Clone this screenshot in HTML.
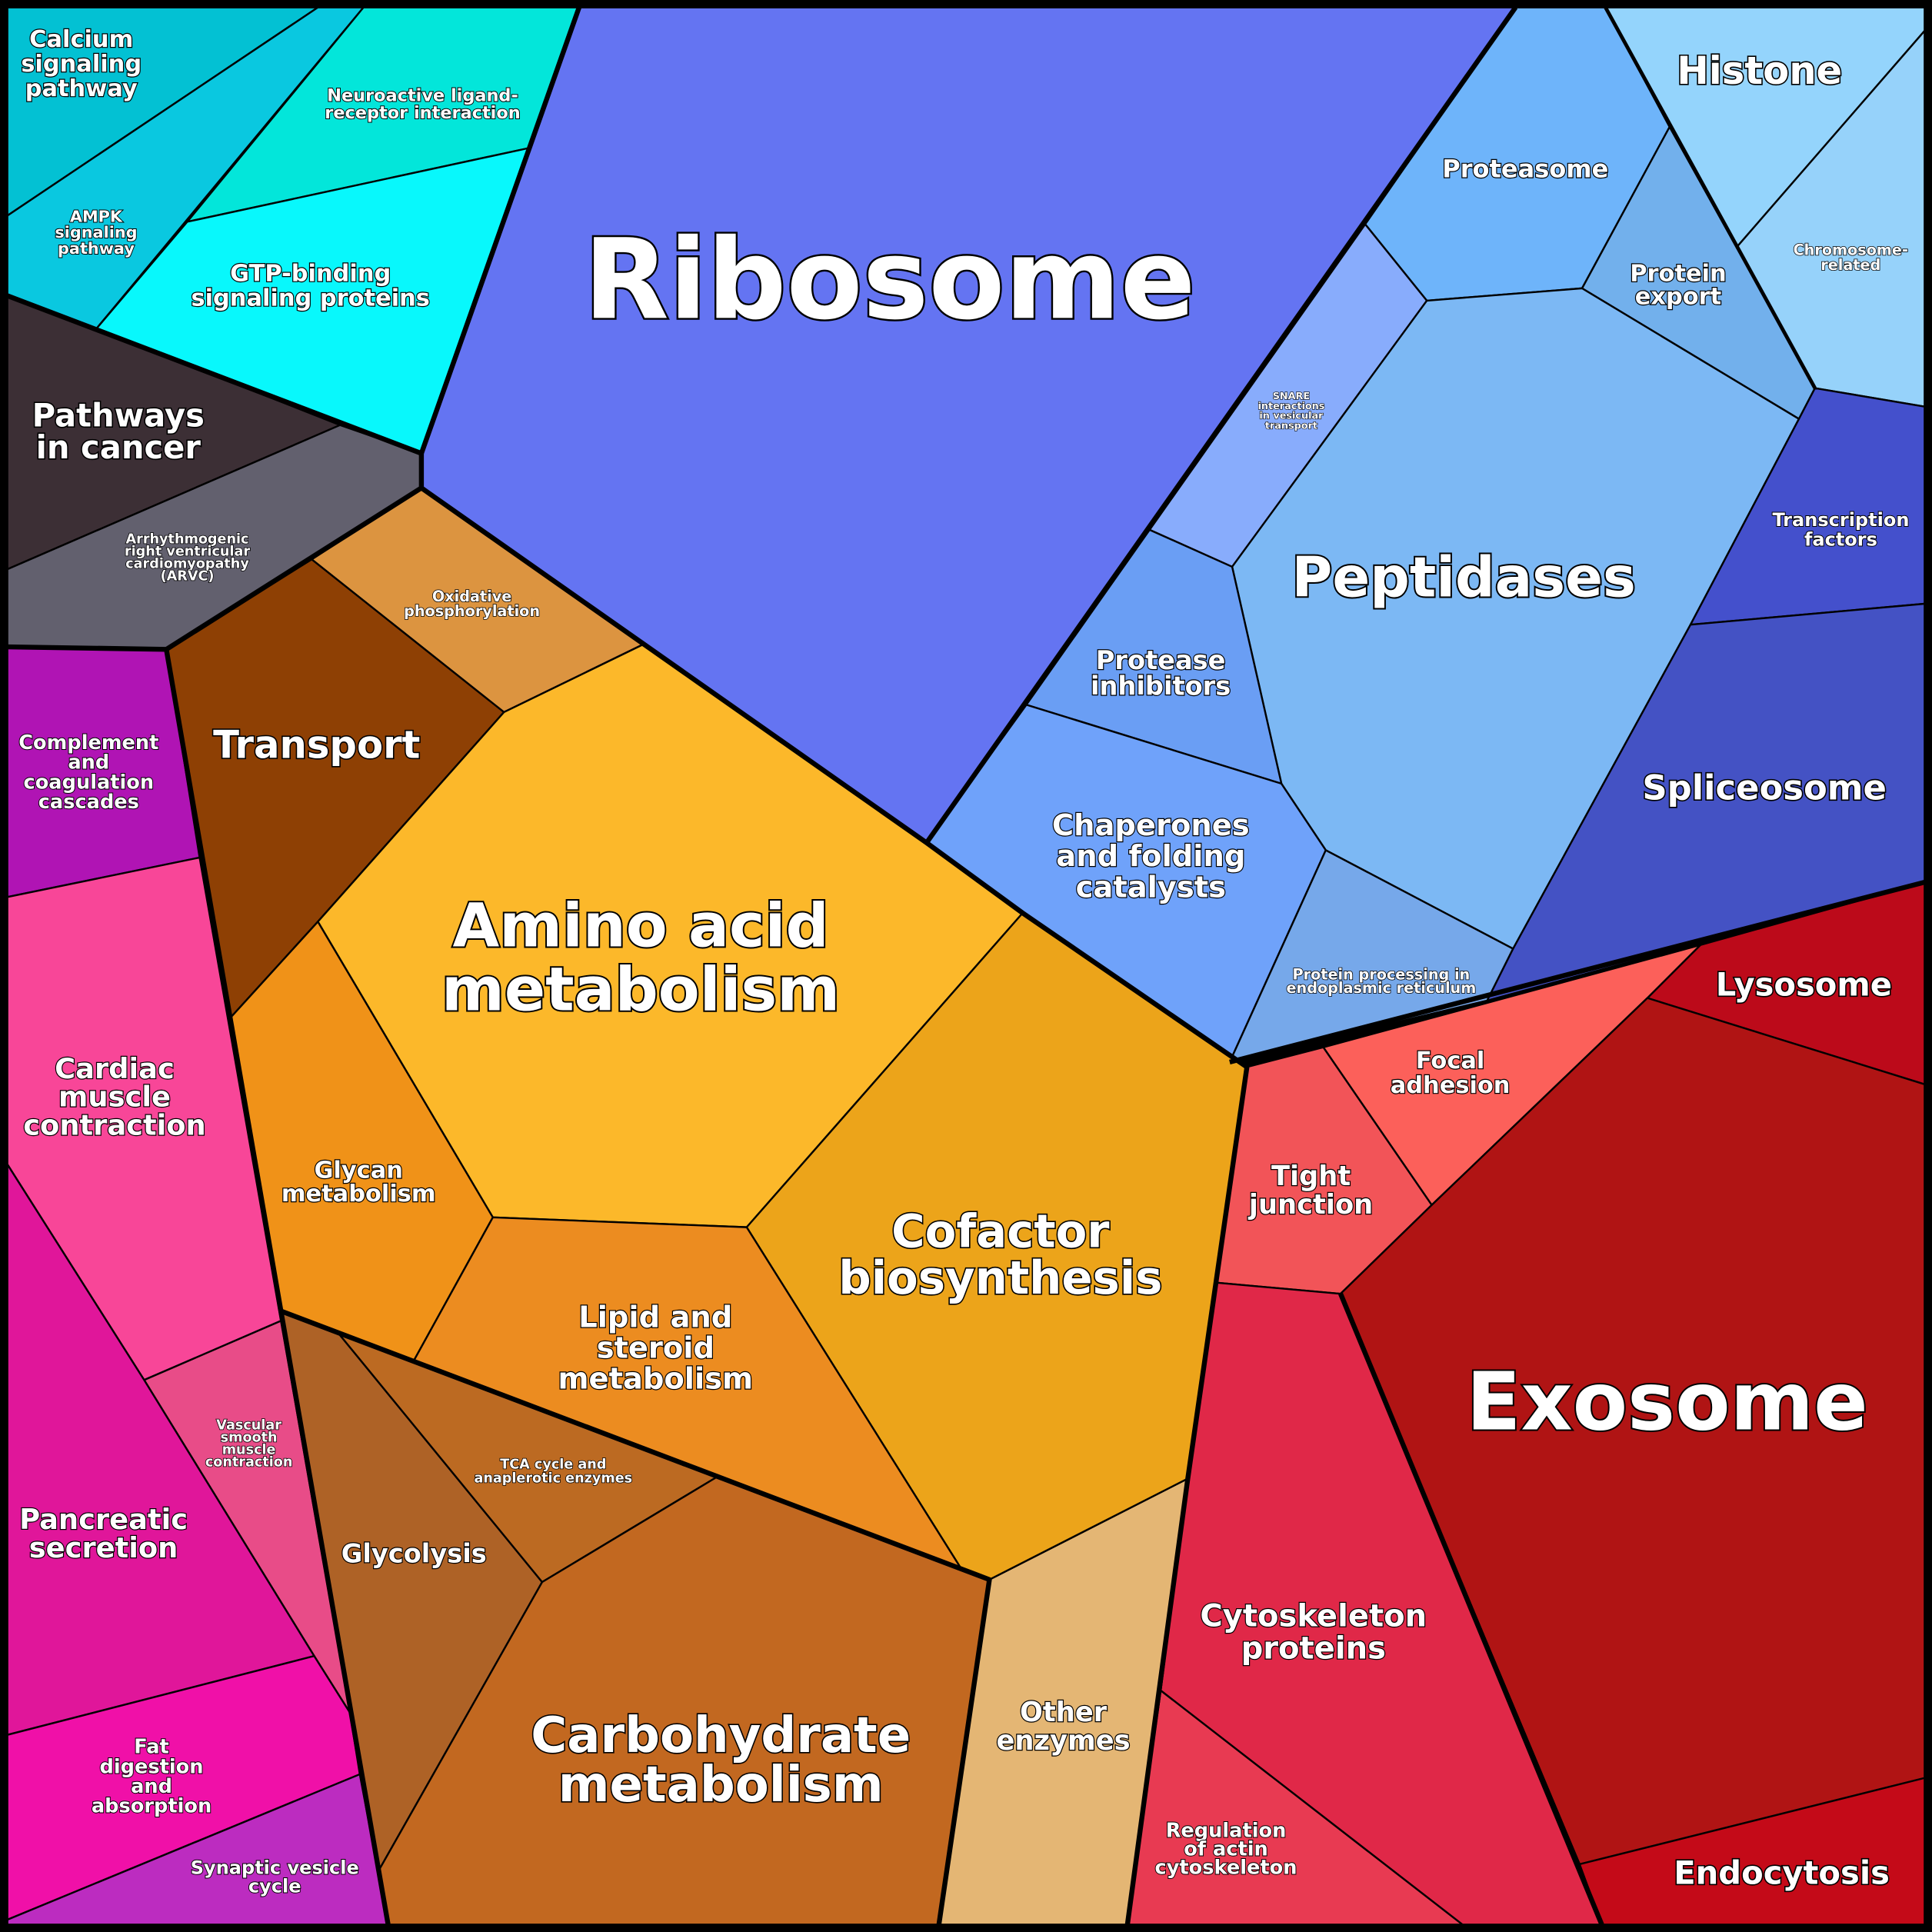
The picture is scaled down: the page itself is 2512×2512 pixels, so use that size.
<!DOCTYPE html>
<html><head><meta charset="utf-8"><style>
html,body{margin:0;padding:0;background:#000;}
svg{display:block;}
text{font-family:"DejaVu Sans","Liberation Sans",sans-serif;font-weight:bold;fill:#fff;stroke:#000;paint-order:stroke;text-anchor:middle;}
</style></head><body>
<svg width="2512" height="2512" viewBox="0 0 1568 1568" xmlns="http://www.w3.org/2000/svg">
<rect x="0" y="0" width="1568" height="1568" fill="#000"/>
<g stroke="#000" stroke-width="1.5" stroke-linejoin="round">
<polygon fill="#03c1d3" points="6,6 258,6 6,175"/>
<polygon fill="#0ac8e0" points="258,6 295,6 78,267 6,240 6,175"/>
<polygon fill="#03e6da" points="295,6 470,6 430,120 152,180"/>
<polygon fill="#08f8fc" points="152,180 430,120 342,368 78,267"/>
<polygon fill="#3c2f35" points="6,240 78,267 276,345 6,462"/>
<polygon fill="#62606e" points="276,345 342,368 342,396 135,527 6,525 6,462"/>
<polygon fill="#6474f2" points="470,6 1230,6 1108,182 933,430 833,572 752,684 522,523 342,396 342,368"/>
<polygon fill="#94d4fc" points="1303,6 1562,6 1562,25 1410,200"/>
<polygon fill="#96d2fa" points="1562,25 1562,330 1473,315 1410,200"/>
<polygon fill="#6eb4fa" points="1230,6 1303,6 1355,103 1284,234 1158,244 1108,182"/>
<polygon fill="#72b0ec" points="1355,103 1473,315 1460,340 1284,234"/>
<polygon fill="#88acfc" points="1108,182 1158,244 1000,460 933,430"/>
<polygon fill="#7cb8f4" points="1158,244 1284,234 1460,340 1372,507 1228,770 1076,690 1040,636 1000,460"/>
<polygon fill="#6a9ef4" points="933,430 1000,460 1040,636 833,572"/>
<polygon fill="#6fa2fa" points="833,572 1040,636 1076,690 998,862 752,684"/>
<polygon fill="#76a8ea" points="1076,690 1228,770 1207,812 998,862"/>
<polygon fill="#4450cc" points="1473,315 1562,330 1562,490 1372,507 1460,340"/>
<polygon fill="#4452c4" points="1372,507 1562,490 1562,716 1207,812 1228,770"/>
<polygon fill="#bc0a1a" points="1380,767 1562,716 1562,880 1337,810"/>
<polygon fill="#fc605a" points="1074,850 1380,767 1337,810 1162,978"/>
<polygon fill="#f25458" points="1012,866 1074,850 1162,978 1088,1050 987,1041"/>
<polygon fill="#b01414" points="1337,810 1562,880 1562,1443 1282,1513 1088,1050 1162,978"/>
<polygon fill="#e02848" points="987,1041 1088,1050 1282,1513 1300,1562 1187,1562 942,1372 964,1200"/>
<polygon fill="#e83a52" points="942,1372 1187,1562 915,1562"/>
<polygon fill="#c40a18" points="1282,1513 1562,1443 1562,1562 1300,1562"/>
<polygon fill="#e4b674" points="964,1200 942,1372 915,1562 762,1562 803,1282"/>
<polygon fill="#dc9440" points="342,396 522,523 409,578 253,454"/>
<polygon fill="#8e4004" points="135,527 253,454 409,578 258,748 187,826"/>
<polygon fill="#fcb82a" points="409,578 522,523 752,684 830,741 606,996 400,988 258,748"/>
<polygon fill="#eca41a" points="830,741 1012,866 964,1200 803,1282 780,1273 606,996"/>
<polygon fill="#f09218" points="187,826 258,748 400,988 336,1104 228,1064"/>
<polygon fill="#ec8c20" points="400,988 606,996 780,1273 336,1104"/>
<polygon fill="#ae6226" points="228,1064 273,1080 440,1284 308,1517 292,1440"/>
<polygon fill="#bc6a22" points="273,1080 583,1198 440,1284"/>
<polygon fill="#c26820" points="440,1284 583,1198 803,1282 762,1562 315,1562 308,1517"/>
<polygon fill="#b014b4" points="6,525 135,527 162,696 6,728"/>
<polygon fill="#f84698" points="6,728 162,696 228,1072 117,1120 6,945"/>
<polygon fill="#e84c88" points="117,1120 228,1072 284,1390 255,1344"/>
<polygon fill="#e0169a" points="6,945 117,1120 255,1344 6,1408"/>
<polygon fill="#f010a8" points="6,1408 255,1344 284,1390 292,1440 6,1558"/>
<polygon fill="#bc2cc0" points="292,1440 315,1562 6,1562 6,1558"/>
</g>
<g fill="none" stroke="#000" stroke-width="4" stroke-linejoin="round">
<polyline points="6,240 342,368 470,6"/>
<polyline points="342,368 342,396 752,684 830,741 1012,866"/>
<polyline points="1230,6 752,684"/>
<polyline points="998,862 1562,716"/>
<polyline points="1012,866 964,1200 915,1562"/>
<polyline points="342,396 135,527 228,1064 315,1562"/>
<polyline points="6,525 135,527"/>
<polyline points="228,1064 803,1282 762,1562"/>
<polyline points="1303,6 1473,315" stroke-width="3"/>
<polyline points="1088,1050 1300,1562"/>
<rect x="3" y="3" width="1562" height="1562" stroke-width="7"/>
</g>
<g>
<text x="66" y="38" font-size="19" stroke-width="1.5">Calcium</text>
<text x="66" y="58" font-size="19" stroke-width="1.5">signaling</text>
<text x="66" y="78" font-size="19" stroke-width="1.5">pathway</text>
<text x="78" y="180" font-size="13" stroke-width="1.2">AMPK</text>
<text x="78" y="193" font-size="13" stroke-width="1.2">signaling</text>
<text x="78" y="206" font-size="13" stroke-width="1.2">pathway</text>
<text x="343" y="82" font-size="14" stroke-width="1.2">Neuroactive ligand-</text>
<text x="343" y="96" font-size="14" stroke-width="1.2">receptor interaction</text>
<text x="252" y="228" font-size="19" stroke-width="1.5">GTP-binding</text>
<text x="252" y="248" font-size="19" stroke-width="1.5">signaling proteins</text>
<text x="96" y="346" font-size="26" stroke-width="2">Pathways</text>
<text x="96" y="372" font-size="26" stroke-width="2">in cancer</text>
<text x="152" y="441" font-size="11" stroke-width="1">Arrhythmogenic</text>
<text x="152" y="451" font-size="11" stroke-width="1">right ventricular</text>
<text x="152" y="461" font-size="11" stroke-width="1">cardiomyopathy</text>
<text x="152" y="471" font-size="11" stroke-width="1">(ARVC)</text>
<text x="722" y="258" font-size="90" stroke-width="3">Ribosome</text>
<text x="1428" y="68" font-size="31" stroke-width="2">Histone</text>
<text x="1502" y="207" font-size="12" stroke-width="1">Chromosome-</text>
<text x="1502" y="219" font-size="12" stroke-width="1">related</text>
<text x="1238" y="144" font-size="20" stroke-width="1.5">Proteasome</text>
<text x="1362" y="228" font-size="19" stroke-width="1.5">Protein</text>
<text x="1362" y="247" font-size="19" stroke-width="1.5">export</text>
<text x="1048" y="324" font-size="8" stroke-width="0.8">SNARE</text>
<text x="1048" y="332" font-size="8" stroke-width="0.8">interactions</text>
<text x="1048" y="340" font-size="8" stroke-width="0.8">in vesicular</text>
<text x="1048" y="348" font-size="8" stroke-width="0.8">transport</text>
<text x="1188" y="484" font-size="45" stroke-width="2.5">Peptidases</text>
<text x="942" y="543" font-size="21" stroke-width="1.5">Protease</text>
<text x="942" y="564" font-size="21" stroke-width="1.5">inhibitors</text>
<text x="934" y="678" font-size="24" stroke-width="1.5">Chaperones</text>
<text x="934" y="703" font-size="24" stroke-width="1.5">and folding</text>
<text x="934" y="728" font-size="24" stroke-width="1.5">catalysts</text>
<text x="1121" y="795" font-size="12" stroke-width="1">Protein processing in</text>
<text x="1121" y="806" font-size="12" stroke-width="1">endoplasmic reticulum</text>
<text x="1494" y="427" font-size="15" stroke-width="1.2">Transcription</text>
<text x="1494" y="443" font-size="15" stroke-width="1.2">factors</text>
<text x="1432" y="649" font-size="28" stroke-width="2">Spliceosome</text>
<text x="1464" y="808" font-size="26" stroke-width="2">Lysosome</text>
<text x="1177" y="867" font-size="19" stroke-width="1.5">Focal</text>
<text x="1177" y="887" font-size="19" stroke-width="1.5">adhesion</text>
<text x="1064" y="962" font-size="22" stroke-width="1.5">Tight</text>
<text x="1064" y="985" font-size="22" stroke-width="1.5">junction</text>
<text x="1353" y="1160" font-size="65" stroke-width="2.5">Exosome</text>
<text x="1066" y="1320" font-size="25" stroke-width="1.5">Cytoskeleton</text>
<text x="1066" y="1346" font-size="25" stroke-width="1.5">proteins</text>
<text x="995" y="1491" font-size="16" stroke-width="1.2">Regulation</text>
<text x="995" y="1506" font-size="16" stroke-width="1.2">of actin</text>
<text x="995" y="1521" font-size="16" stroke-width="1.2">cytoskeleton</text>
<text x="1446" y="1529" font-size="26" stroke-width="2">Endocytosis</text>
<text x="863" y="1397" font-size="22" stroke-width="1.5">Other</text>
<text x="863" y="1420" font-size="22" stroke-width="1.5">enzymes</text>
<text x="383" y="488" font-size="12" stroke-width="1">Oxidative</text>
<text x="383" y="500" font-size="12" stroke-width="1">phosphorylation</text>
<text x="257" y="615" font-size="31" stroke-width="2">Transport</text>
<text x="520" y="768" font-size="49" stroke-width="2.5">Amino acid</text>
<text x="520" y="820" font-size="49" stroke-width="2.5">metabolism</text>
<text x="812" y="1012" font-size="37" stroke-width="2">Cofactor</text>
<text x="812" y="1050" font-size="37" stroke-width="2">biosynthesis</text>
<text x="291" y="956" font-size="19" stroke-width="1.5">Glycan</text>
<text x="291" y="975" font-size="19" stroke-width="1.5">metabolism</text>
<text x="532" y="1077" font-size="24" stroke-width="1.5">Lipid and</text>
<text x="532" y="1102" font-size="24" stroke-width="1.5">steroid</text>
<text x="532" y="1127" font-size="24" stroke-width="1.5">metabolism</text>
<text x="449" y="1192" font-size="11" stroke-width="1">TCA cycle and</text>
<text x="449" y="1203" font-size="11" stroke-width="1">anaplerotic enzymes</text>
<text x="336" y="1268" font-size="21" stroke-width="1.5">Glycolysis</text>
<text x="585" y="1422" font-size="40" stroke-width="2">Carbohydrate</text>
<text x="585" y="1462" font-size="40" stroke-width="2">metabolism</text>
<text x="72" y="608" font-size="16" stroke-width="1.2">Complement</text>
<text x="72" y="624" font-size="16" stroke-width="1.2">and</text>
<text x="72" y="640" font-size="16" stroke-width="1.2">coagulation</text>
<text x="72" y="656" font-size="16" stroke-width="1.2">cascades</text>
<text x="93" y="875" font-size="23" stroke-width="1.5">Cardiac</text>
<text x="93" y="898" font-size="23" stroke-width="1.5">muscle</text>
<text x="93" y="921" font-size="23" stroke-width="1.5">contraction</text>
<text x="202" y="1160" font-size="11" stroke-width="1">Vascular</text>
<text x="202" y="1170" font-size="11" stroke-width="1">smooth</text>
<text x="202" y="1180" font-size="11" stroke-width="1">muscle</text>
<text x="202" y="1190" font-size="11" stroke-width="1">contraction</text>
<text x="84" y="1241" font-size="23" stroke-width="1.5">Pancreatic</text>
<text x="84" y="1264" font-size="23" stroke-width="1.5">secretion</text>
<text x="123" y="1423" font-size="16" stroke-width="1.2">Fat</text>
<text x="123" y="1439" font-size="16" stroke-width="1.2">digestion</text>
<text x="123" y="1455" font-size="16" stroke-width="1.2">and</text>
<text x="123" y="1471" font-size="16" stroke-width="1.2">absorption</text>
<text x="223" y="1521" font-size="15" stroke-width="1.2">Synaptic vesicle</text>
<text x="223" y="1536" font-size="15" stroke-width="1.2">cycle</text>
</g>
</svg>
</body></html>
